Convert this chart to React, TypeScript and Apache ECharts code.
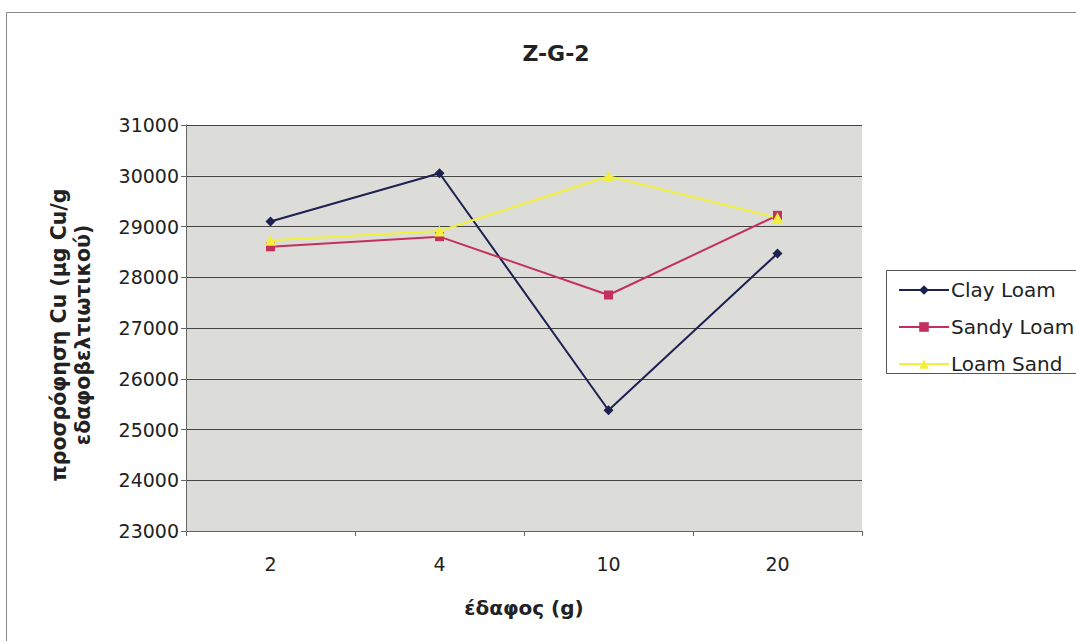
import React, { useEffect, useRef } from "react";
import * as echarts from "echarts";

const categories = ["2", "4", "10", "20"];
const clayLoam = [29100, 30050, 25380, 28470];
const sandyLoam = [28600, 28800, 27650, 29220];
const loamSand = [28730, 28910, 29990, 29170];
const seriesNames = ["Clay Loam", "Sandy Loam", "Loam Sand"];

export default function App() {
  const ref = useRef<HTMLDivElement>(null);
  useEffect(() => {
    const chart = echarts.init(ref.current!, null, { renderer: "svg" });
    const font = "'DejaVu Sans', 'Liberation Sans', Arial, sans-serif";
    chart.setOption({
      animation: false,
      backgroundColor: "#ffffff",
      textStyle: { fontFamily: font },
      title: {
        text: "Z-G-2",
        left: 551,
        textAlign: "center",
        top: 37,
        textStyle: { fontFamily: font, fontSize: 22, fontWeight: "bold", color: "#222" },
      },
      graphic: [
        {
          type: "rect",
          shape: { x: 6.5, y: 12.5, width: 1200, height: 800 },
          style: { fill: "none", stroke: "#8a8a8a", lineWidth: 1 },
          silent: true,
        },
        {
          type: "rect",
          shape: { x: 886.5, y: 270.5, width: 300, height: 103 },
          style: { fill: "#ffffff", stroke: "#555", lineWidth: 1 },
          silent: true,
          z: 0,
        },
      ],
      legend: {
        orient: "vertical",
        left: 893,
        top: 275,
        itemWidth: 50,
        itemHeight: 12,
        itemGap: 17,
        data: seriesNames,
        textStyle: { fontFamily: font, fontSize: 20, color: "#222", padding: [0, 0, 0, -3] },
        z: 5,
      },
      grid: { left: 186, top: 125, width: 676, height: 406 },
      xAxis: {
        type: "category",
        data: categories,
        boundaryGap: true,
        name: "έδαφος (g)",
        nameLocation: "middle",
        nameGap: 67,
        nameTextStyle: { fontFamily: font, fontSize: 20, fontWeight: "bold", color: "#222" },
        axisLine: { lineStyle: { color: "#666" } },
        axisTick: { show: true, alignWithLabel: false, length: 5, lineStyle: { color: "#666" } },
        axisLabel: { fontFamily: font, fontSize: 19, color: "#222", margin: 23 },
      },
      yAxis: {
        type: "value",
        min: 23000,
        max: 31000,
        interval: 1000,
        name: "προσρόφηση Cu (μg Cu/g\nεδαφοβελτιωτικού)",
        nameLocation: "middle",
        nameRotate: 90,
        nameGap: 91,
        nameTextStyle: {
          fontFamily: font,
          fontSize: 20.5,
          fontWeight: "bold",
          color: "#222",
          lineHeight: 24,
          padding: [0, 14, 0, 0],
        },
        axisLine: { show: true, lineStyle: { color: "#666" } },
        axisTick: { show: true, length: 5, lineStyle: { color: "#666" } },
        axisLabel: {
          fontFamily: font,
          fontSize: 19,
          color: "#222",
          margin: 7,
          formatter: (v: number) => String(v),
        },
        splitLine: { show: true, lineStyle: { color: "#444", width: 1 } },
        splitArea: { show: true, areaStyle: { color: ["#dcdcd9", "#dcdcd9"] } },
      },
      series: [
        {
          name: seriesNames[0],
          type: "line",
          data: clayLoam,
          symbol: "diamond",
          symbolSize: 10,
          color: "#1c2150",
          lineStyle: { color: "#1c2150", width: 2 },
          itemStyle: { color: "#1c2150" },
        },
        {
          name: seriesNames[1],
          type: "line",
          data: sandyLoam,
          symbol: "rect",
          symbolSize: 9,
          color: "#c4305e",
          lineStyle: { color: "#c4305e", width: 2 },
          itemStyle: { color: "#c4305e" },
        },
        {
          name: seriesNames[2],
          type: "line",
          data: loamSand,
          symbol: "triangle",
          symbolSize: 11,
          color: "#f2f03a",
          lineStyle: { color: "#f2f03a", width: 2 },
          itemStyle: { color: "#f2f03a" },
        },
      ],
    });
    return () => chart.dispose();
  }, []);
  return (
    <div
      ref={ref}
      style={{ position: "fixed", left: 0, top: 0, width: 1076, height: 641 }}
    />
  );
}
